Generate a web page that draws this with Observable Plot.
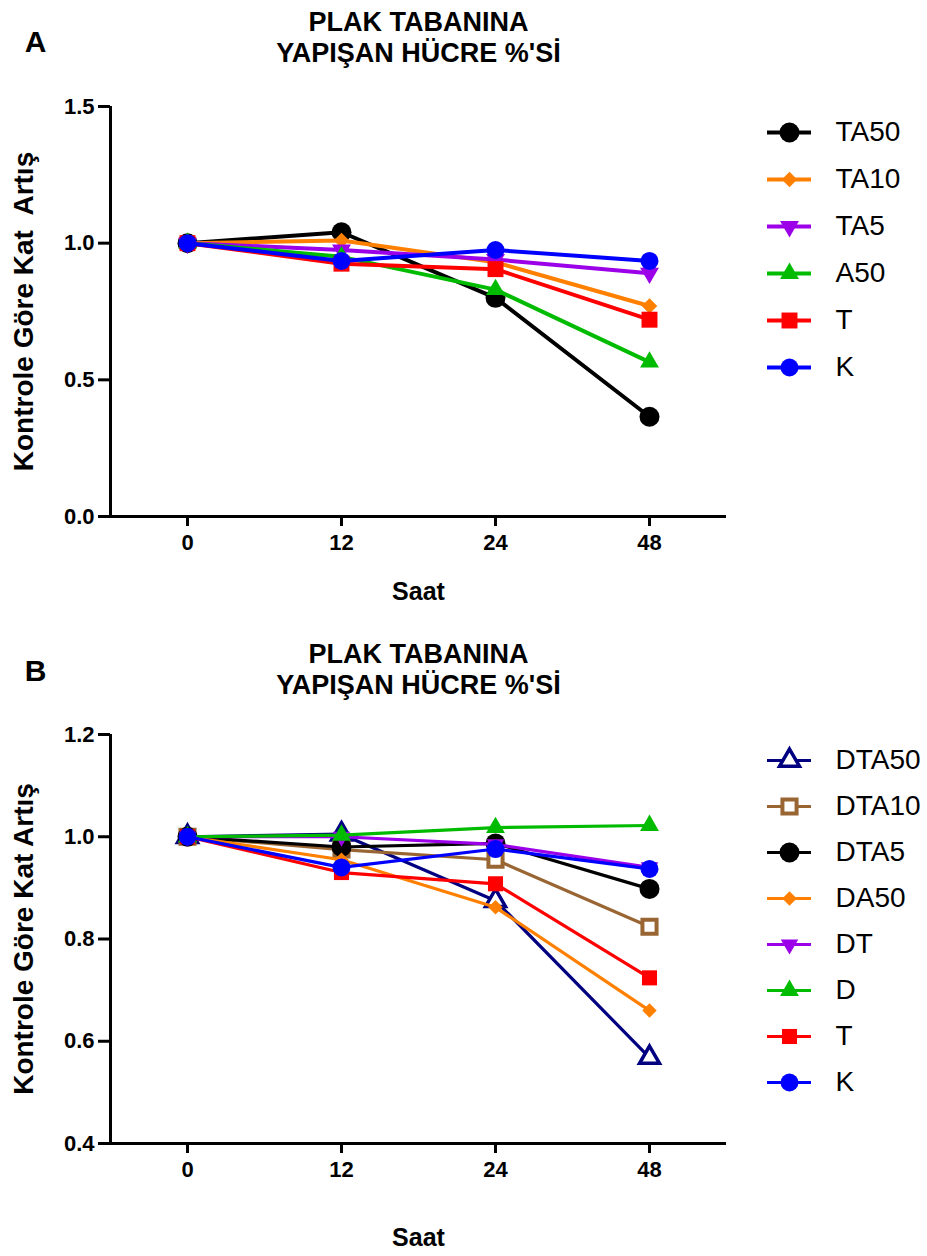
<!DOCTYPE html>
<html>
<head>
<meta charset="utf-8">
<script src="https://cdn.jsdelivr.net/npm/d3@7"></script>
<script src="https://cdn.jsdelivr.net/npm/@observablehq/plot@0.6"></script>
<style>
  html, body { margin: 0; padding: 0; background: #fff; }
  #page { position: relative; width: 927px; height: 1256px; overflow: hidden; font-family: "Liberation Sans", Arial, sans-serif; }
  #page > svg, #page > figure { position: absolute; margin: 0; }
</style>
</head>
<body>
<div id="page"></div>
<script>
// ---------- data ----------
const hours = ["0", "12", "24", "48"];

const titleText = "PLAK TABANINA\nYAPIŞAN HÜCRE %'Sİ";
const xLabel = "Saat";
const yLabelA = "Kontrole Göre Kat  Artış";
const yLabelB = "Kontrole Göre Kat Artış";

// Panel A
const seriesA = ["TA50", "TA10", "TA5", "A50", "T", "K"];
const A_TA50 = [1.00, 1.04, 0.80, 0.365];
const A_TA10 = [1.00, 1.01, 0.93, 0.77];
const A_TA5  = [1.00, 0.975, 0.94, 0.89];
const A_A50  = [1.00, 0.95, 0.83, 0.565];
const A_T    = [1.00, 0.925, 0.905, 0.72];
const A_K    = [1.00, 0.935, 0.975, 0.935];
const yTicksA = [0.0, 0.5, 1.0, 1.5];

// Panel B
const seriesB = ["DTA50", "DTA10", "DTA5", "DA50", "DT", "D", "T", "K"];
const B_DTA50 = [1.00, 1.005, 0.875, 0.568];
const B_DTA10 = [1.00, 0.975, 0.955, 0.824];
const B_DTA5  = [1.00, 0.98, 0.987, 0.898];
const B_DA50  = [1.00, 0.955, 0.862, 0.66];
const B_DT    = [1.00, 1.00, 0.985, 0.94];
const B_D     = [1.00, 1.003, 1.018, 1.022];
const B_T     = [1.00, 0.93, 0.908, 0.724];
const B_K     = [1.00, 0.94, 0.976, 0.937];
const yTicksB = [0.4, 0.6, 0.8, 1.0, 1.2];

const valuesA = {TA50: A_TA50, TA10: A_TA10, TA5: A_TA5, A50: A_A50, T: A_T, K: A_K};
const valuesB = {DTA50: B_DTA50, DTA10: B_DTA10, DTA5: B_DTA5, DA50: B_DA50, DT: B_DT, D: B_D, T: B_T, K: B_K};

// ---------- styles ----------
const triangleDown = {
  draw(ctx, size) {
    const s3 = Math.sqrt(3);
    const y = -Math.sqrt(size / (s3 * 3));
    ctx.moveTo(0, -y * 2);
    ctx.lineTo(-s3 * y, y);
    ctx.lineTo(s3 * y, y);
    ctx.closePath();
  }
};
const C = {black: "#000000", orange: "#FF8000", purple: "#9B00E8", green: "#00BB00",
           red: "#FF0000", blue: "#0000FF", navy: "#000080", brown: "#996633"};
const styleA = {
  TA50: {color: C.black, symbol: "circle", r: 10},
  TA10: {color: C.orange, symbol: "diamond2", r: 7},
  TA5:  {color: C.purple, symbol: triangleDown, r: 7},
  A50:  {color: C.green, symbol: "triangle", r: 7},
  T:    {color: C.red, symbol: "square", r: 9},
  K:    {color: C.blue, symbol: "circle", r: 9}
};
const styleB = {
  DTA50: {color: C.navy, symbol: "triangle2", r: 9.5, open: true, sw: 3.5},
  DTA10: {color: C.brown, symbol: "square2", r: 9, open: true, sw: 4},
  DTA5:  {color: C.black, symbol: "circle", r: 10},
  DA50:  {color: C.orange, symbol: "diamond2", r: 6.5},
  DT:    {color: C.purple, symbol: triangleDown, r: 6.5},
  D:     {color: C.green, symbol: "triangle", r: 7},
  T:     {color: C.red, symbol: "square", r: 8.5},
  K:     {color: C.blue, symbol: "circle", r: 9}
};

const FONT = '"Liberation Sans", Arial, sans-serif';

function rowsFor(series, values) {
  return series.flatMap(s => values[s].map((v, i) => ({series: s, i, hour: hours[i], value: v})));
}

function seriesMarks(series, rows, style, lineW, xKey) {
  return series.flatMap(s => {
    const st = style[s];
    const d = rows.filter(r => r.series === s);
    return [
      Plot.line(d, {x: xKey, y: "value", stroke: st.color, strokeWidth: lineW}),
      Plot.dot(d, {x: xKey, y: "value", symbol: () => st.symbol, r: st.r,
        fill: st.open ? "#fff" : st.color,
        stroke: st.open ? st.color : "none",
        strokeWidth: st.open ? st.sw : 0})
    ];
  });
}

function panel({series, values, style, yDomain, yTicks, height, marginTop, marginBottom,
                letter, yLabel, titleDy, letterDy, saatDy, lineW}) {
  const rows = rowsFor(series, values);
  const xDomain = [-0.5, hours.length - 0.5];
  return Plot.plot({
    width: 760,
    height,
    marginLeft: 110,
    marginRight: 34,
    marginTop,
    marginBottom,
    style: {fontFamily: FONT, background: "transparent", color: "#000", overflow: "visible"},
    x: {type: "linear", domain: xDomain, axis: null},
    y: {type: "linear", domain: yDomain, axis: null},
    symbol: {type: "identity"},
    marks: [
      Plot.axisX({ticks: hours.map((h, i) => i), tickFormat: i => hours[i], tickSize: 10, tickPadding: 8,
                  strokeWidth: 3, fontSize: 22, fontWeight: "bold", label: null}),
      Plot.axisY({ticks: yTicks, tickFormat: d => d.toFixed(1), tickSize: 12, tickPadding: 4,
                  strokeWidth: 3, fontSize: 22, fontWeight: "bold", label: null}),
      Plot.ruleY([yDomain[0]], {strokeWidth: 3}),
      Plot.ruleX([xDomain[0]], {strokeWidth: 3}),
      ...seriesMarks(series, rows, style, lineW, "i"),
      Plot.text([titleText], {frameAnchor: "top", dy: titleDy, textAnchor: "middle", lineAnchor: "middle",
                              fontSize: 27, fontWeight: "bold", lineHeight: 1.15}),
      Plot.text([letter], {frameAnchor: "top-left", dx: -75, dy: letterDy, textAnchor: "middle", lineAnchor: "middle",
                           fontSize: 30, fontWeight: "bold"}),
      Plot.text([yLabel], {frameAnchor: "left", rotate: -90, dx: -86, textAnchor: "middle", lineAnchor: "middle",
                           fontSize: 28, fontWeight: "bold"}),
      Plot.text([xLabel], {frameAnchor: "bottom", dy: saatDy, textAnchor: "middle", lineAnchor: "middle",
                           fontSize: 25, fontWeight: "bold"})
    ]
  });
}

function legend({series, style, height, yRange, lineW}) {
  return Plot.plot({
    width: 177,
    height,
    margin: 0,
    style: {fontFamily: FONT, background: "transparent", color: "#000", overflow: "visible"},
    x: {type: "linear", domain: [0, 1], range: [17, 61], axis: null},
    y: {type: "point", domain: series, range: yRange, padding: 0, axis: null},
    symbol: {type: "identity"},
    marks: [
      ...series.flatMap(s => {
        const st = style[s];
        return [
          Plot.ruleY([s], {y: d => d, x1: 0, x2: 1, stroke: st.color, strokeWidth: lineW}),
          Plot.dot([s], {y: d => d, x: 0.5, symbol: () => st.symbol, r: st.r,
            fill: st.open ? "#fff" : st.color,
            stroke: st.open ? st.color : "none",
            strokeWidth: st.open ? st.sw : 0})
        ];
      }),
      Plot.text(series, {y: d => d, x: 1, dx: 24, text: d => d, textAnchor: "start", lineAnchor: "middle", fontSize: 28})
    ]
  });
}

const page = document.getElementById("page");

const pA = panel({series: seriesA, values: valuesA, style: styleA, yDomain: [0, 1.5], yTicks: yTicksA,
  height: 620, marginTop: 106, marginBottom: 104, letter: "A", yLabel: yLabelA,
  titleDy: -70, letterDy: -64, saatDy: 75, lineW: 4});
pA.style.left = "0px"; pA.style.top = "0px";
page.appendChild(pA);

const lA = legend({series: seriesA, style: styleA, height: 420, yRange: [132, 367], lineW: 4});
lA.style.left = "750px"; lA.style.top = "0px";
page.appendChild(lA);

const pB = panel({series: seriesB, values: valuesB, style: styleB, yDomain: [0.4, 1.2], yTicks: yTicksB,
  height: 636, marginTop: 114, marginBottom: 113, letter: "B", yLabel: yLabelB,
  titleDy: -66, letterDy: -63, saatDy: 94, lineW: 3.2});
pB.style.left = "0px"; pB.style.top = "620px";
page.appendChild(pB);

const lB = legend({series: seriesB, style: styleB, height: 636, yRange: [137, 464], lineW: 3.2});
lB.style.left = "750px"; lB.style.top = "620px";
page.appendChild(lB);
</script>
</body>
</html>
